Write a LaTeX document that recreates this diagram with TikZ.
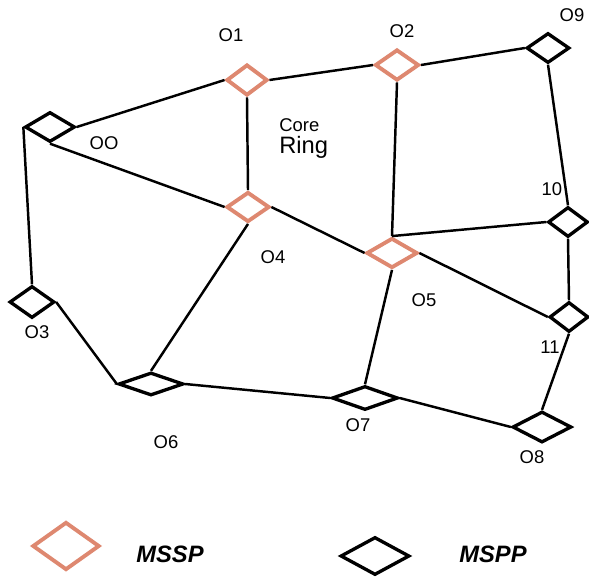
\documentclass[tikz,border=0pt]{standalone}
\usepackage{fontspec}
\setmainfont{Liberation Sans}
\usetikzlibrary{shapes.geometric, positioning}
\definecolor{cSalmon}{RGB}{222,136,112}
\tikzset{
    dsize/.style 2 args={minimum width=#1*0.02cm, minimum height=#2*0.02cm},
    mssp/.style={diamond, draw=cSalmon, line width=2.2pt, inner sep=0pt, fill=white},
    mspp/.style={diamond, draw=black, line width=1.9pt, inner sep=0pt, fill=white},
    link/.style={draw=black, line width=1.4pt},
    lbl/.style={font=\fontsize{10.5}{12}\selectfont, inner sep=0pt},
    legtext/.style={font=\fontsize{13.5}{15}\bfseries\itshape\selectfont, inner sep=0pt},
}
\begin{document}
\begin{tikzpicture}[x=0.02cm, y=-0.02cm]
    \useasboundingbox (0,0) rectangle (589,576);
    % nodes of the ring
    \node[mspp, dsize={50}{30}] (o0) at (50,127) {};
    \node[mssp, dsize={41}{31}] (o1) at (247,80) {};
    \node[mssp, dsize={44}{31}] (o2) at (397,65) {};
    \node[mspp, dsize={43}{30}] (o9) at (548,48) {};
    \node[mssp, dsize={43}{30}] (o4) at (248,207) {};
    \node[mssp, dsize={51}{30}] (o5) at (392,253) {};
    \node[mspp, dsize={40}{30}] (n10) at (568,222) {};
    \node[mspp, dsize={39}{30}] (n11) at (569,317) {};
    \node[mspp, dsize={45}{32}] (o3) at (32,302) {};
    \node[mspp, dsize={65}{23}] (o6) at (151,384) {};
    \node[mspp, dsize={66}{24}] (o7) at (365,398) {};
    \node[mspp, dsize={59}{31}] (o8) at (542,427) {};
    % links
    \draw[link] (o0.east) -- (o1.west);
    \draw[link] (o0.west) -- (o3.north);
    \draw[link] (o0.south) -- (o4.west);
    \draw[link] (o1.east) -- (o2.west);
    \draw[link] (o1.south) -- (o4.north);
    \draw[link] (o2.east) -- (o9.west);
    \draw[link] (o2.south) -- (o5.north);
    \draw[link] (o9.south) -- (n10.north);
    \draw[link] (o4.east) -- (o5.west);
    \draw[link] (o4.south) -- (o6.north);
    \draw[link] (o5.north) -- (n10.west);
    \draw[link] (o5.east) -- (n11.west);
    \draw[link] (o5.south) -- (o7.north);
    \draw[link] (n10.south) -- (n11.north);
    \draw[link] (n11.south) -- (o8.north);
    \draw[link] (o3.east) -- (o6.west);
    \draw[link] (o6.east) -- (o7.west);
    \draw[link] (o7.east) -- (o8.west);
    % labels
    \node[lbl] (l1) at (231,35) {O1};
    \node[lbl] (l2) at (402,31) {O2};
    \node[lbl] (l9) at (572,15) {O9};
    \node[lbl] (l0) at (104,143) {OO};
    \node[lbl] (l4) at (273,257) {O4};
    \node[lbl] (l5) at (424,300) {O5};
    \node[lbl] (l10) at (552,189) {10};
    \node[lbl] (l11) at (550,347) {11};
    \node[lbl] (l3) at (37,332) {O3};
    \node[lbl] (l6) at (166,442) {O6};
    \node[lbl] (l7) at (358,425) {O7};
    \node[lbl] (l8) at (532,457) {O8};
    \node[inner sep=0pt, anchor=base west, font=\fontsize{10.5}{12}\selectfont] (core) at (279,131) {Core};
    \node[inner sep=0pt, anchor=base west, font=\fontsize{13.5}{15}\selectfont] (ring) at (279,153) {Ring};
    % legend
    \node[mssp, dsize={67}{48}] (kssp) at (66,546) {};
    \node[legtext] (tssp) at (170,554) {MSSP};
    \node[mspp, dsize={69}{38}] (kspp) at (375,556) {};
    \node[legtext] (tspp) at (493,554) {MSPP};
\end{tikzpicture}
\end{document}
